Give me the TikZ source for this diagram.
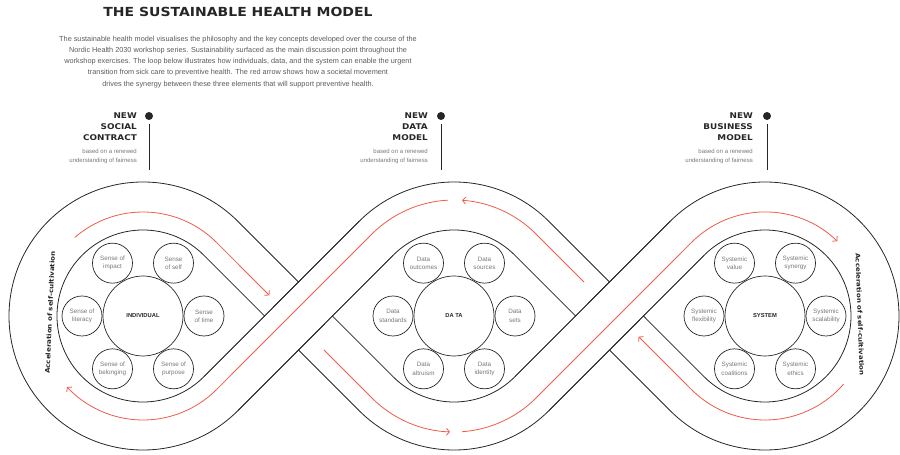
\documentclass[tikz,border=0pt]{standalone}
\usepackage{fontspec}
\setmainfont{Liberation Sans}
\newfontfamily\headfont[FakeStretch=1.12]{DejaVu Sans}
\usetikzlibrary{calc,arrows.meta}

\definecolor{ink}{RGB}{38,38,38}
\definecolor{flowred}{RGB}{236,92,74}
\definecolor{bodygray}{RGB}{90,90,90}
\definecolor{petalgray}{RGB}{120,120,120}

\begin{document}
\begin{tikzpicture}[x=1pt,y=1pt,
	edge/.style={ink, line width=0.8pt, line join=round},
	flow/.style={flowred, line width=0.8pt, -{Straight Barb[length=3pt,width=7pt]}},
	hub/.style={circle, draw=ink, line width=0.7pt, minimum size=80pt, inner sep=0pt, text=ink, font=\bfseries\fontsize{5.8}{7}\selectfont},
	petal/.style={circle, draw=ink, line width=0.7pt, minimum size=40pt, inner sep=0pt, align=center, text=petalgray, font=\fontsize{6.3}{8.3}\selectfont},
	heading/.style={anchor=north east, inner sep=0pt, align=right, text=ink, font=\headfont\bfseries\fontsize{7.9}{10.8}\selectfont},
	basis/.style={anchor=north east, inner sep=0pt, align=right, text=petalgray, font=\fontsize{6}{9}\selectfont},
	dot/.style={circle, fill=ink, inner sep=0pt, minimum size=8pt},
	side/.style={inner sep=0pt, text=ink, font=\headfont\bfseries\fontsize{6.3}{7}\selectfont}]
	
	\useasboundingbox (0,0) rectangle (900,455);
	
	% Заголовок и пояснение
	\node[text=ink, font=\headfont\bfseries\fontsize{12.5}{14}\selectfont] (title) at (238,443) {THE SUSTAINABLE HEALTH MODEL};
	\node[align=center, text=bodygray, font=\fontsize{7.3}{11.1}\selectfont] (intro) at (238,393) {The sustainable health model visualises the philosophy and the key concepts developed over the course of the\\
		Nordic Health 2030 workshop series. Sustainability surfaced as the main discussion point throughout the\\
		workshop exercises. The loop below illustrates how individuals, data, and the system can enable the urgent\\
		transition from sick care to preventive health. The red arrow shows how a societal movement\\
		drives the synergy between these three elements that will support preventive health.};
	
	% Центры трёх петель
	\coordinate (cl) at (143,139);
	\coordinate (cm) at (454,139);
	\coordinate (cr) at (765,139);
	
	% Края ленты (две замкнутые восьмёрки)
	\draw[edge] ($(cl)+(45:86)$) arc[start angle=45, end angle=315, radius=86]
		-- ($(cm)+(135:134)$) arc[start angle=135, end angle=45, radius=134]
		-- ($(cr)+(225:86)$) arc[start angle=225, end angle=495, radius=86]
		-- ($(cm)+(315:134)$) arc[start angle=315, end angle=225, radius=134]
		-- cycle;
	\draw[edge] ($(cl)+(45:134)$) arc[start angle=45, end angle=315, radius=134]
		-- ($(cm)+(135:86)$) arc[start angle=135, end angle=45, radius=86]
		-- ($(cr)+(225:134)$) arc[start angle=225, end angle=495, radius=134]
		-- ($(cm)+(315:86)$) arc[start angle=315, end angle=225, radius=86]
		-- cycle;
	
	% Пересечения: восходящая лента идёт сверху
	\draw[white, line width=47pt] ($(cl)+(315:110)$) -- ($(cm)+(135:110)$);
	\draw[white, line width=47pt] ($(cm)+(315:110)$) -- ($(cr)+(135:110)$);
	\draw[edge] ($(cl)+(315:86)$) -- ($(cm)+(135:134)$);
	\draw[edge] ($(cl)+(315:134)$) -- ($(cm)+(135:86)$);
	\draw[edge] ($(cm)+(315:86)$) -- ($(cr)+(135:134)$);
	\draw[edge] ($(cm)+(315:134)$) -- ($(cr)+(135:86)$);
	
	% Красная стрелка по ленте
	\coordinate (l45) at ($(cl)+(45:104)$);
	\coordinate (l315) at ($(cl)+(315:104)$);
	\coordinate (m45) at ($(cm)+(45:116)$);
	\coordinate (m135) at ($(cm)+(135:116)$);
	\coordinate (m225) at ($(cm)+(225:116)$);
	\coordinate (m315) at ($(cm)+(315:116)$);
	\coordinate (r135) at ($(cr)+(135:104)$);
	\coordinate (r225) at ($(cr)+(225:104)$);
	\draw[flow] ($(cl)+(131:104)$) arc[start angle=131, end angle=45, radius=104] -- ($(l45)!0.34!(m225)$);
	\draw[flow] ($(l45)!0.69!(m225)$) -- (m225) arc[start angle=225, end angle=268, radius=116];
	\draw[flow] ($(cm)+(274:116)$) arc[start angle=274, end angle=315, radius=116] -- (r135) arc[start angle=135, end angle=46, radius=104];
	\draw[flow] ($(cr)+(-41:104)$) arc[start angle=-41, end angle=-135, radius=104] -- ($(r225)!0.34!(m45)$);
	\draw[flow] ($(r225)!0.69!(m45)$) -- (m45) arc[start angle=45, end angle=86, radius=116];
	\draw[flow] ($(cm)+(93:116)$) arc[start angle=93, end angle=135, radius=116] -- (l315) arc[start angle=315, end angle=223, radius=104];
	
	% Подписи по бокам
	\node[side, rotate=87.5] (accl) at (50,142.5) {Acceleration of self-cultivation};
	\node[side, rotate=-88] (accr) at (860,140.5) {Acceleration of self-cultivation};
	
	% Индивид
	\node[hub] (indiv) at (cl) {INDIVIDUAL};
	\node[petal] (impact) at ($(cl)+(120:61)$) {Sense of\\impact};
	\node[petal] (self) at ($(cl)+(60:61)$) {Sense\\of self};
	\node[petal] (time) at ($(cl)+(0:61)$) {Sense\\of time};
	\node[petal] (purpose) at ($(cl)+(-60:61)$) {Sense of\\purpose};
	\node[petal] (belonging) at ($(cl)+(-120:61)$) {Sense of\\belonging};
	\node[petal] (literacy) at ($(cl)+(180:61)$) {Sense of\\literacy};
	
	% Данные
	\node[hub] (data) at (cm) {DA TA};
	\node[petal] (outcomes) at ($(cm)+(120:61)$) {Data\\outcomes};
	\node[petal] (sources) at ($(cm)+(60:61)$) {Data\\sources};
	\node[petal] (sets) at ($(cm)+(0:61)$) {Data\\sets};
	\node[petal] (identity) at ($(cm)+(-60:61)$) {Data\\identity};
	\node[petal] (altruism) at ($(cm)+(-120:61)$) {Data\\altruism};
	\node[petal] (standards) at ($(cm)+(180:61)$) {Data\\standards};
	
	% Система
	\node[hub] (system) at (cr) {SYSTEM};
	\node[petal] (value) at ($(cr)+(120:61)$) {Systemic\\value};
	\node[petal] (synergy) at ($(cr)+(60:61)$) {Systemic\\synergy};
	\node[petal] (scalability) at ($(cr)+(0:61)$) {Systemic\\scalability};
	\node[petal] (ethics) at ($(cr)+(-60:61)$) {Systemic\\ethics};
	\node[petal] (coalitions) at ($(cr)+(-120:61)$) {Systemic\\coalitions};
	\node[petal] (flexibility) at ($(cr)+(180:61)$) {Systemic\\flexibility};
	
	% Три новые модели над петлями
	\node[heading] (social) at (137,342) {NEW\\SOCIAL\\CONTRACT};
	\node[basis] (socialnote) at (137,306.5) {based on a renewed\\understanding of fairness};
	\node[dot] (dot1) at (149,339) {};
	\coordinate (stem1) at (149,285);
	\draw[ink, line width=0.8pt, shorten <=4pt] (dot1) -- (stem1);
	
	\node[heading] (datamodel) at (428,342) {NEW\\DATA\\MODEL};
	\node[basis] (datanote) at (428,306.5) {based on a renewed\\understanding of fairness};
	\node[dot] (dot2) at (441,339) {};
	\coordinate (stem2) at (441,285);
	\draw[ink, line width=0.8pt, shorten <=4pt] (dot2) -- (stem2);
	
	\node[heading] (business) at (753,342) {NEW\\BUSINESS\\MODEL};
	\node[basis] (businessnote) at (753,306.5) {based on a renewed\\understanding of fairness};
	\node[dot] (dot3) at (767,339) {};
	\coordinate (stem3) at (767,285);
	\draw[ink, line width=0.8pt, shorten <=4pt] (dot3) -- (stem3);
\end{tikzpicture}
\end{document}
